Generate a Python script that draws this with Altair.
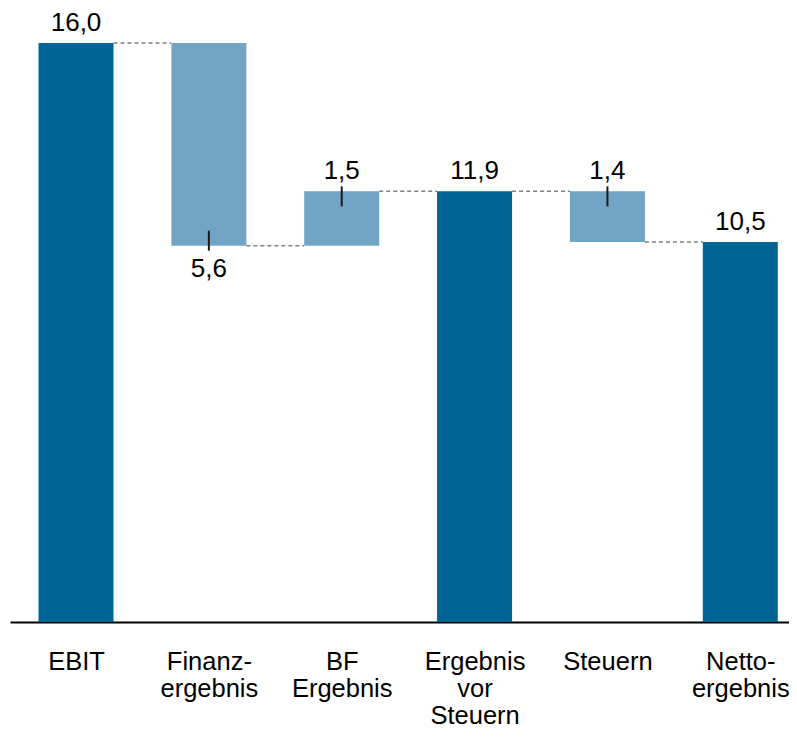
import json
import altair as alt
import pandas as pd

# ---- data ----
labels = [["EBIT"], ["Finanz-", "ergebnis"], ["BF", "Ergebnis"],
          ["Ergebnis", "vor", "Steuern"], ["Steuern"], ["Netto-", "ergebnis"]]
values = [16.0, -5.6, 1.5, 11.9, -1.4, 10.5]
kinds = ["total", "delta", "delta", "total", "delta", "total"]
label_side = ["above", "below", "above", "above", "above", "above"]

# ---- derive waterfall start/end ----
rows = []
prev_end = 0.0
for i, (v, k, s) in enumerate(zip(values, kinds, label_side)):
    if k == "total":
        start, end = 0.0, v
    else:
        start, end = prev_end, prev_end + v
    rows.append({"idx": i, "value": v, "kind": k, "side": s,
                 "start": start, "end": end,
                 "top": max(start, end), "bottom": min(start, end),
                 "next": i + 1})
    prev_end = end
df = pd.DataFrame(rows)
conn = df[df["idx"] < len(values) - 1]

DARK = "#006595"
LIGHT = "#72A4C5"
FONT = "Liberation Sans"

xscale = alt.Scale(domain=[-0.4968, 5.3666], nice=False, zero=False, padding=0)
yscale = alt.Scale(domain=[0, 16], nice=False, zero=True, padding=0)

label_expr = json.dumps(labels) + "[datum.value]"
xaxis = alt.Axis(values=[0, 1, 2, 3, 4, 5], labelExpr=label_expr, title=None,
                 grid=False, ticks=False, tickSize=0, labelPadding=47,
                 labelBaseline="alphabetic", labelFontSize=25.5, labelFont=FONT,
                 labelColor="#000000", labelLineHeight=27, labelFlush=False,
                 labelOverlap=False, labelBound=False,
                 domainColor="#000000", domainWidth=2)

base = alt.Chart(df)

connectors = alt.Chart(conn).mark_rule(
    color="#808080", strokeWidth=1.5, strokeDash=[4, 3],
    xOffset=37.5, x2Offset=-37.5
).encode(
    x=alt.X("idx:Q", scale=xscale, axis=xaxis),
    x2="next:Q",
    y=alt.Y("end:Q", scale=yscale, axis=None),
)

bars = base.mark_bar(size=75).encode(
    x=alt.X("idx:Q", scale=xscale, axis=xaxis),
    y=alt.Y("start:Q", scale=yscale, axis=None),
    y2="end:Q",
    color=alt.Color("kind:N", scale=alt.Scale(domain=["total", "delta"],
                                               range=[DARK, LIGHT]), legend=None),
)

tick_top = base.transform_filter(
    "datum.kind == 'delta' && datum.side == 'above'"
).mark_rule(color="#1a1a1a", strokeWidth=2, yOffset=-5, y2Offset=15).encode(
    x=alt.X("idx:Q", scale=xscale),
    y=alt.Y("top:Q", scale=yscale),
    y2="top:Q",
)

tick_bottom = base.transform_filter(
    "datum.kind == 'delta' && datum.side == 'below'"
).mark_rule(color="#1a1a1a", strokeWidth=2, yOffset=-15, y2Offset=5).encode(
    x=alt.X("idx:Q", scale=xscale),
    y=alt.Y("bottom:Q", scale=yscale),
    y2="bottom:Q",
)

fmt = "replace(format(abs(datum.value), '.1f'), '.', ',')"

text_above = base.transform_filter("datum.side == 'above'").transform_calculate(
    lbl=fmt
).mark_text(fontSize=26, font=FONT, color="#000000", baseline="alphabetic",
            align="center", dy=-12).encode(
    x=alt.X("idx:Q", scale=xscale),
    y=alt.Y("top:Q", scale=yscale),
    text="lbl:N",
)

text_below = base.transform_filter("datum.side == 'below'").transform_calculate(
    lbl=fmt
).mark_text(fontSize=26, font=FONT, color="#000000", baseline="alphabetic",
            align="center", dy=31).encode(
    x=alt.X("idx:Q", scale=xscale),
    y=alt.Y("bottom:Q", scale=yscale),
    text="lbl:N",
)

chart = alt.layer(
    connectors, bars, tick_top, tick_bottom, text_above, text_below
).properties(
    width=779, height=579,
    autosize=alt.AutoSizeParams(type="none"),
    padding={"left": 2, "top": 35, "right": 0, "bottom": 107},
    background="#ffffff",
).configure_view(stroke=None)

chart.save("out.html", embed_options={"renderer": "svg", "actions": False})
